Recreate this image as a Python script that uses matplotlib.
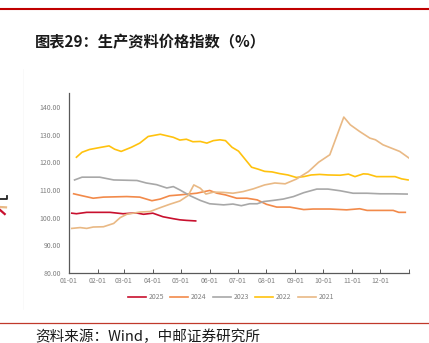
import matplotlib
matplotlib.use('Agg')
import matplotlib.pyplot as plt
from matplotlib.lines import Line2D

plt.rcParams['font.family'] = ['Noto Sans CJK SC', 'DejaVu Sans']

# day of year for each weekly reading, with the index values
days_2025 = [3, 8, 19, 44, 58, 72, 80, 90, 101, 112, 119, 126, 136]
vals_2025 = [101.6, 101.4, 101.9, 101.9, 101.4, 101.7, 101.2, 101.6, 100.3, 99.6, 99.2, 99.0, 98.8]

days_2024 = [5, 14, 26, 37, 62, 76, 89, 98, 108, 119, 137, 151, 159, 168, 180, 191, 202, 212, 223, 237,
             252, 262, 280, 298, 312, 320, 348, 354, 361]
vals_2024 = [108.6, 107.9, 107.0, 107.4, 107.6, 107.4, 106.1, 106.7, 107.9, 108.2, 108.8, 109.8, 108.8, 108.2,
             107.0, 107.0, 106.4, 104.8, 103.8, 103.8, 102.9, 103.1, 103.1, 102.8, 103.2, 102.6, 102.6, 101.9, 101.9]

days_2023 = [6, 14, 33, 48, 73, 83, 94, 105, 112, 119, 130, 141, 151, 166, 176, 185, 194, 202, 209, 219,
             230, 241, 252, 266, 278, 291, 305, 320, 334, 348, 363]
vals_2023 = [113.6, 114.6, 114.6, 113.6, 113.4, 112.5, 111.9, 110.7, 111.2, 110.0, 107.9, 106.2, 105.0, 104.6,
             104.9, 104.3, 105.0, 105.0, 105.8, 106.2, 106.7, 107.6, 109.0, 110.3, 110.3, 109.7, 108.8, 108.8,
             108.6, 108.6, 108.5]

days_2022 = [8, 14, 22, 33, 43, 49, 56, 67, 76, 85, 98, 112, 119, 126, 133, 141, 148, 155, 162, 168, 175, 182,
             189, 196, 203, 210, 218, 226, 235, 244, 252, 260, 269, 278, 291, 300, 307, 316, 321, 330, 339, 350,
             357, 364]
vals_2022 = [121.8, 123.6, 124.6, 125.3, 125.9, 124.7, 123.9, 125.4, 126.9, 129.3, 130.1, 129.0, 128.0, 128.3,
             127.4, 127.5, 126.9, 127.8, 128.1, 127.8, 125.4, 124.0, 121.1, 118.2, 117.5, 116.7, 116.5, 115.9,
             115.4, 114.5, 114.8, 115.4, 115.6, 115.4, 115.3, 115.7, 114.8, 115.8, 115.7, 114.8, 114.8, 114.8,
             114.0, 113.6]

days_2021 = [3, 12, 19, 26, 37, 48, 55, 62, 76, 87, 98, 108, 119, 128, 134, 141, 147, 155, 166, 176, 187, 198,
             210, 221, 232, 244, 257, 268, 280, 295, 302, 312, 323, 329, 337, 346, 355, 365]
vals_2021 = [96.1, 96.4, 96.1, 96.6, 96.7, 97.9, 100.0, 101.2, 102.0, 102.2, 103.6, 104.8, 106.0, 108.0, 111.8,
             110.6, 108.5, 109.2, 109.1, 108.8, 109.4, 110.4, 111.8, 112.5, 112.2, 113.9, 116.6, 120.0, 122.7,
             136.3, 133.5, 131.1, 128.7, 128.1, 126.3, 125.1, 123.9, 121.5]

month_days = [0, 31, 59, 90, 120, 151, 181, 212, 243, 273, 304, 334, 365]
month_labels = ['01-01', '02-01', '03-01', '04-01', '05-01', '06-01', '07-01', '08-01',
                '09-01', '10-01', '11-01', '12-01', '']
y_ticks = [80, 90, 100, 110, 120, 130, 140]

series = [
    ('2025', days_2025, vals_2025, '#C8102E'),
    ('2024', days_2024, vals_2024, '#F28A4A'),
    ('2023', days_2023, vals_2023, '#A8A8A8'),
    ('2022', days_2022, vals_2022, '#FFC20E'),
    ('2021', days_2021, vals_2021, '#E9B985'),
]

fig = plt.figure(figsize=(4.29, 3.43), dpi=100)
fig.patch.set_facecolor('white')

# header / footer rules
fig.add_artist(Line2D([0, 1], [0.9738, 0.9738], color='#C00000', lw=1.5))
fig.add_artist(Line2D([0, 1], [0.0583, 0.0583], color='#C0392B', lw=0.9))
fig.add_artist(Line2D([0.0536, 0.0536], [0.10, 0.80], color='#F7F7F7', lw=0.5))

fig.text(0.0816, 0.8776, '图表29：生产资料价格指数（%）', fontsize=11, fontweight='bold',
         color='#1a1a1a', va='center', ha='left')
fig.text(0.0816, 0.018, '资料来源：Wind，中邮证券研究所', fontsize=10.5,
         color='#1a1a1a', va='center', ha='left')

# bits of the neighbouring page at the left edge
fig.add_artist(Line2D([0.0, 0.0163, 0.0163], [0.4198, 0.4198, 0.4285], color='#222222', lw=1.3))
fig.add_artist(Line2D([0.0, 0.014], [0.3965, 0.3955], color='#E9B985', lw=1.6))
fig.add_artist(Line2D([0.0, 0.011], [0.3880, 0.3760], color='#C8102E', lw=1.6))

ax = fig.add_axes([0.1608, 0.2041, 0.7926, 0.5248])
for name, d, v, c in series:
    ax.plot(d, v, color=c, lw=1.2, label=name, solid_joinstyle='round')

ax.set_xlim(0, 365)
ax.set_ylim(80, 145)
ax.set_xticks(month_days)
ax.set_xticklabels(month_labels)
ax.set_yticks(y_ticks)
ax.set_yticklabels(['%.2f' % t for t in y_ticks])
ax.tick_params(axis='x', direction='in', length=3, width=0.7, color='#595959',
               labelsize=5, labelcolor='#7F7F7F', pad=3)
ax.tick_params(axis='y', length=0, labelsize=5, labelcolor='#7F7F7F', pad=6)
for s in ['top', 'right']:
    ax.spines[s].set_visible(False)
for s in ['left', 'bottom']:
    ax.spines[s].set_color('#595959')
    ax.spines[s].set_linewidth(0.9)

leg = ax.legend(loc='center', bbox_to_anchor=(0.538, 0.134), bbox_transform=fig.transFigure,
                ncol=5, frameon=False, fontsize=5, handlelength=2.6, handletextpad=0.4,
                columnspacing=0.9)
for t in leg.get_texts():
    t.set_color('#7F7F7F')

fig.savefig('out.png', dpi=100)
